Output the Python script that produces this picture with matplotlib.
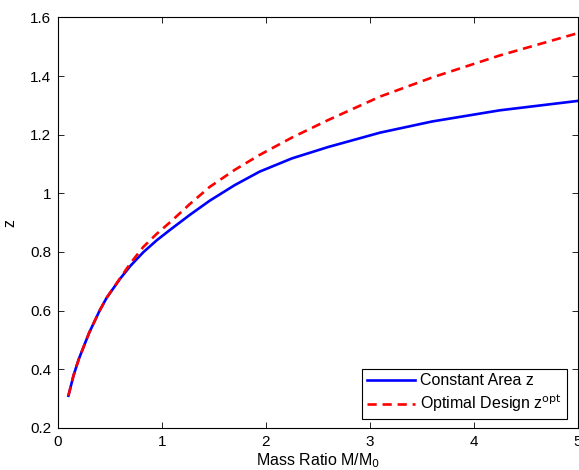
import numpy as np
import matplotlib
matplotlib.use("Agg")
import matplotlib.pyplot as plt

plt.rcParams['font.family'] = ['Liberation Sans', 'DejaVu Sans']

# values
mass_ratio = [0.1, 0.15, 0.2, 0.3, 0.4, 0.47, 0.6, 0.7, 0.82, 0.95, 1.08, 1.27, 1.46, 1.7, 1.94,
              2.25, 2.6, 3.1, 3.6, 4.25, 5.0]
z_const = [0.31, 0.38, 0.435, 0.525, 0.60, 0.645, 0.71, 0.754, 0.799, 0.840, 0.876, 0.927, 0.975, 1.028, 1.074,
           1.119, 1.158, 1.207, 1.245, 1.283, 1.315]
z_opt = [0.31, 0.38, 0.435, 0.525, 0.60, 0.645, 0.712, 0.763, 0.817, 0.862, 0.902, 0.964, 1.022, 1.08, 1.131,
         1.19, 1.25, 1.33, 1.395, 1.47, 1.546]

xticks = [0, 1, 2, 3, 4, 5]
yticks = [0.2, 0.4, 0.6, 0.8, 1.0, 1.2, 1.4, 1.6]
ytick_labels = ["0.2", "0.4", "0.6", "0.8", "1", "1.2", "1.4", "1.6"]

fig = plt.figure(figsize=(5.79, 4.70), dpi=100)
ax = fig.add_axes([0.1002, 0.0894, 0.8975, 0.8737])

ax.plot(mass_ratio, z_const, color="#0000ff", lw=1.9, label="Constant Area z")
ax.plot(mass_ratio, z_opt, color="#ff0000", lw=1.9, ls=(0, (3.5, 2.2)), label="Optimal Design z$^{\\rm opt}$")

ax.set_xlim(0, 5)
ax.set_ylim(0.2, 1.6)
ax.set_xticks(xticks)
ax.set_xticklabels([str(t) for t in xticks])
ax.set_yticks(yticks)
ax.set_yticklabels(ytick_labels)
ax.tick_params(direction="in", top=True, right=True, length=4, width=0.6, labelsize=11, pad=5)
for s in ax.spines.values():
    s.set_linewidth(0.8)

ax.set_xlabel("Mass Ratio M/M$_0$", fontsize=11.5, labelpad=2)
ax.set_ylabel("z", fontsize=11.5, labelpad=9)

leg = ax.legend(loc="lower right", bbox_to_anchor=(0.980, 0.022), borderaxespad=0,
                fontsize=11.5, fancybox=False, edgecolor="black", framealpha=1,
                handlelength=3.0, handletextpad=0.35, borderpad=0.3, labelspacing=0.25)
leg.get_frame().set_linewidth(0.8)

fig.savefig("out.png", dpi=100)
